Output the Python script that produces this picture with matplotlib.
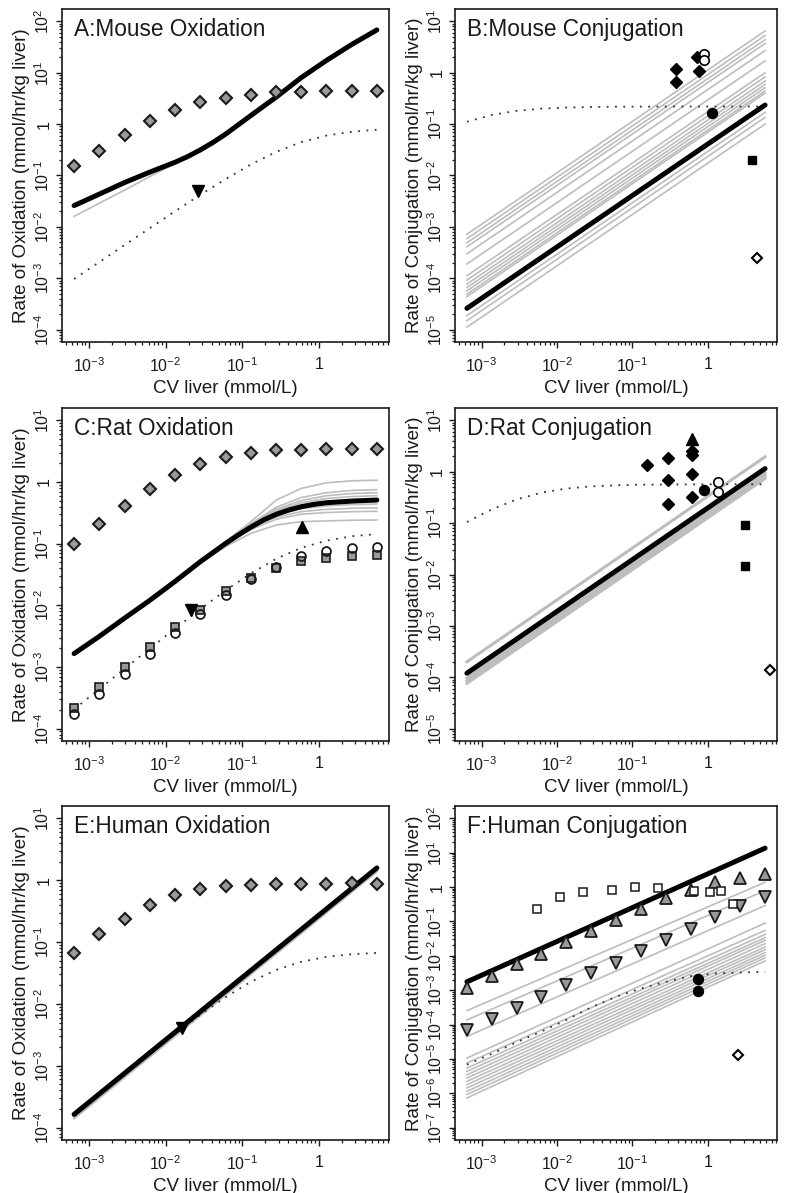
import matplotlib
matplotlib.use("Agg")
import matplotlib.pyplot as plt
from matplotlib.ticker import LogLocator, NullFormatter
import numpy as np

plt.rcParams["font.family"] = ["Liberation Sans", "DejaVu Sans"]
plt.rcParams["mathtext.fontset"] = "custom"
plt.rcParams["mathtext.rm"] = "Liberation Sans"
plt.rcParams["mathtext.it"] = "Liberation Sans:italic"
plt.rcParams["mathtext.bf"] = "Liberation Sans:bold"

# ---- data ----
CV = [6.4e-4, 1.37e-3, 2.92e-3, 6.2e-3, 1.33e-2, 2.84e-2, 6.1e-2,
      0.13, 0.28, 0.59, 1.26, 2.7, 5.75]
CV_ENDS = [CV[0], CV[-1]]

# A: mouse oxidation
a_sim = [0.154, 0.305, 0.62, 1.13, 1.87, 2.67, 3.28, 3.7, 4.16, 4.2, 4.35, 4.35, 4.35]
a_model_x = [6.4e-4, 1.37e-3, 2.92e-3, 6.2e-3, 1.33e-2, 1.94e-2, 2.84e-2, 4.16e-2,
             6.1e-2, 0.089, 0.13, 0.28, 0.59, 1.26, 2.7, 5.75]
a_model = [0.026, 0.0435, 0.073, 0.116, 0.181, 0.233, 0.314, 0.44,
           0.64, 0.97, 1.47, 3.38, 8.0, 17.3, 35.5, 68]
a_gray = [0.016, 0.029, 0.052, 0.095, 0.17, 0.30, 0.62, 1.44, 3.33, 7.9, 17.1, 35, 67.5]
a_dotted = [9.7e-4, 2.08e-3, 4.45e-3, 9.4e-3, 0.0201, 0.042, 0.0852,
            0.164, 0.289, 0.446, 0.598, 0.71, 0.778]
a_obs_x, a_obs_y = [0.0265], [0.049]

# B: mouse conjugation
b_model = [2.6e-5, 0.235]
b_gray_start = [7.2e-4, 5.9e-4, 4.9e-4, 4.1e-4, 3.0e-4, 1.9e-4, 1.12e-4, 9.2e-5,
                7.7e-5, 6.6e-5, 5.7e-5, 4.9e-5, 4.4e-5, 1.88e-5, 1.5e-5, 1.12e-5]
b_gray_end = [6.5, 5.3, 4.4, 3.7, 2.7, 1.7, 1.0, 0.83,
              0.69, 0.59, 0.51, 0.44, 0.40, 0.169, 0.135, 0.10]
b_dotted = [0.111, 0.151, 0.181, 0.20, 0.21, 0.215, 0.218, 0.219, 0.22, 0.22, 0.22, 0.22, 0.22]
b_dia_x, b_dia_y = [0.38, 0.38, 0.76, 0.73], [1.16, 0.66, 1.06, 2.0]
b_ocirc_x, b_ocirc_y = [0.9, 0.9], [2.33, 1.73]
b_circ_x, b_circ_y = [1.15], [0.166]
b_sq_x, b_sq_y = [3.8], [0.020]
b_odia_x, b_odia_y = [4.5], [2.5e-4]

# C: rat oxidation
c_sim = [0.098, 0.206, 0.41, 0.77, 1.29, 1.94, 2.55, 3.0, 3.27, 3.27, 3.4, 3.4, 3.4]
c_model_x = [6.4e-4, 1.37e-3, 2.92e-3, 6.2e-3, 1.33e-2, 2.84e-2, 6.1e-2, 0.089,
             0.13, 0.19, 0.28, 0.406, 0.59, 0.862, 1.26, 2.7, 5.75]
c_model = [1.65e-3, 3.15e-3, 6.2e-3, 0.012, 0.0244, 0.051, 0.101, 0.138,
           0.185, 0.242, 0.300, 0.351, 0.397, 0.434, 0.461, 0.49, 0.51]
c_gray = [
    [1.66e-3, 3.17e-3, 6.25e-3, 0.0121, 0.0247, 0.052, 0.108, 0.227, 0.51, 0.786, 0.97, 1.045, 1.07],
    [1.66e-3, 3.16e-3, 6.23e-3, 0.0121, 0.0246, 0.0515, 0.105, 0.21, 0.39, 0.56, 0.67, 0.73, 0.75],
    [1.65e-3, 3.16e-3, 6.22e-3, 0.0120, 0.0245, 0.0513, 0.104, 0.205, 0.36, 0.50, 0.60, 0.65, 0.67],
    [1.65e-3, 3.15e-3, 6.21e-3, 0.0120, 0.0245, 0.0511, 0.103, 0.20, 0.34, 0.46, 0.54, 0.58, 0.60],
    [1.65e-3, 3.15e-3, 6.2e-3, 0.0120, 0.0243, 0.0508, 0.100, 0.185, 0.29, 0.37, 0.41, 0.43, 0.44],
    [1.64e-3, 3.14e-3, 6.19e-3, 0.0119, 0.0242, 0.0505, 0.099, 0.18, 0.27, 0.33, 0.36, 0.375, 0.38],
    [1.64e-3, 3.14e-3, 6.18e-3, 0.0119, 0.0241, 0.0500, 0.097, 0.17, 0.25, 0.30, 0.32, 0.33, 0.335],
    [1.63e-3, 3.12e-3, 6.1e-3, 0.0117, 0.0236, 0.0475, 0.0897, 0.147, 0.201, 0.227, 0.234, 0.24, 0.242],
]
c_dotted = [2.06e-4, 4.41e-4, 9.37e-4, 1.98e-3, 4.18e-3, 8.66e-3, 0.0175,
            0.033, 0.0571, 0.0855, 0.112, 0.132, 0.143]
c_sq = [2.18e-4, 4.72e-4, 1.0e-3, 2.11e-3, 4.45e-3, 8.49e-3, 0.0168,
        0.0276, 0.041, 0.0526, 0.0596, 0.0641, 0.0657]
c_circ = [1.71e-4, 3.68e-4, 7.56e-4, 1.65e-3, 3.56e-3, 7.22e-3, 0.0145,
          0.0266, 0.0426, 0.0634, 0.0764, 0.0843, 0.0897]
c_tdown_x, c_tdown_y = [0.0212], [8.5e-3]
c_tup_x, c_tup_y = [0.6], [0.189]

# D: rat conjugation
d_model = [1.2e-4, 1.15]
d_gray_start = [2.0e-4, 9.6e-5, 8.5e-5, 7.6e-5]
d_gray_end = [1.95, 0.93, 0.83, 0.74]
d_dotted = [0.105, 0.185, 0.289, 0.391, 0.47, 0.518, 0.545, 0.558, 0.564, 0.567, 0.569, 0.57, 0.57]
d_dia_x = [0.155, 0.30, 0.30, 0.30, 0.62, 0.62, 0.62, 0.62]
d_dia_y = [1.33, 1.85, 0.70, 0.239, 0.92, 0.322, 2.08, 2.5]
d_tup_x, d_tup_y = [0.62], [4.4]
d_circ_x, d_circ_y = [0.89], [0.448]
d_ocirc_x, d_ocirc_y = [1.36, 1.36], [0.63, 0.404]
d_sq_x, d_sq_y = [3.07, 3.07], [0.093, 0.0147]
d_odia_x, d_odia_y = [6.7], [1.37e-4]

# E: human oxidation
e_sim = [0.0663, 0.133, 0.239, 0.403, 0.571, 0.714, 0.81, 0.851, 0.873, 0.883, 0.883, 0.906, 0.883]
e_model = [1.64e-4, 1.58]
e_gray_start = [1.4e-4, 1.5e-4]
e_gray_end = [1.38, 1.45]
e_dotted = [1.66e-4, 3.53e-4, 7.49e-4, 1.57e-3, 3.29e-3, 6.66e-3, 0.0129,
            0.0228, 0.0356, 0.048, 0.0576, 0.0636, 0.0669]
e_obs_x, e_obs_y = [0.0162], [4.03e-3]

# F: human conjugation
f_model = [1.75e-3, 13.6]
f_gray_start = [2.54e-4, 1.36e-4, 4.5e-5, 1.06e-5, 7.57e-6, 5.43e-6, 4.35e-6, 3.48e-6,
                2.79e-6, 2.23e-6, 1.79e-6, 1.43e-6, 1.14e-6, 9.2e-7, 7.3e-7]
f_gray_end = [1.38, 0.79, 0.29, 0.0897, 0.055, 0.042, 0.0337, 0.0282,
              0.0226, 0.0181, 0.0151, 0.0124, 0.0104, 8.7e-3, 7.1e-3]
f_dotted = [6.8e-6, 1.41e-5, 3.07e-5, 6.25e-5, 1.36e-4, 3.17e-4, 6.46e-4,
            1.12e-3, 1.75e-3, 2.56e-3, 3.06e-3, 3.27e-3, 3.42e-3]
f_tup = [1.12e-3, 2.62e-3, 5.7e-3, 0.0116, 0.0247, 0.0526, 0.112,
         0.233, 0.475, 0.847, 1.38, 1.84, 2.4]
f_tdown = [7.0e-5, 1.42e-4, 2.96e-4, 6.46e-4, 1.41e-3, 3.2e-3, 6.37e-3,
           0.0136, 0.0283, 0.0615, 0.134, 0.279, 0.531]
f_osq_x = [5.48e-3, 0.011, 0.0224, 0.054, 0.109, 0.216, 0.652, 1.08, 1.51, 2.13]
f_osq_y = [0.223, 0.508, 0.709, 0.828, 0.988, 0.946, 0.792, 0.709, 0.792, 0.326]
f_circ_x, f_circ_y = [0.743, 0.743], [2.09e-3, 9.2e-4]
f_odia_x, f_odia_y = [2.5], [1.32e-5]

# ---- figure ----
FIG_W, FIG_H = 785, 1193
INK = "#1a1a1a"
GRAY_LINE = "#bdbdbd"
GRAY_FILL = "#9a9a9a"
DOT_STYLE = dict(color="#333333", lw=1.3, ls=(0, (1, 3.6)), zorder=2)

fig = plt.figure(figsize=(FIG_W / 100, FIG_H / 100), dpi=100)
cols = [(62, 389), (455, 777)]
rows = [(9, 342), (408, 741), (806, 1140)]


def panel(col, row, ylo, yhi, title, ylabel):
    x0, x1 = cols[col]
    y0, y1 = rows[row]
    w, h = x1 - x0, y1 - y0
    ax = fig.add_axes([x0 / FIG_W, 1 - y1 / FIG_H, w / FIG_W, h / FIG_H])
    ax.set_xscale("log")
    ax.set_yscale("log")
    lx = np.log10(CV_ENDS)
    mx = 0.04 * (lx[1] - lx[0])
    ax.set_xlim(10 ** (lx[0] - mx), 10 ** (lx[1] + mx))
    my = 0.04 * (yhi - ylo)
    ax.set_ylim(10 ** (ylo - my), 10 ** (yhi + my))

    xt = [1e-3, 1e-2, 1e-1, 1]
    ax.set_xticks(xt, [r"$10^{-3}$", r"$10^{-2}$", r"$10^{-1}$", "1"])
    exps = list(range(ylo, yhi + 1))
    ylabels = ["1" if e == 0 else r"$10^{%d}$" % e for e in exps]
    ax.set_yticks([10.0 ** e for e in exps], ylabels, rotation=90, va="center")
    for axis in (ax.xaxis, ax.yaxis):
        axis.set_minor_locator(LogLocator(base=10, subs=np.arange(2, 10), numticks=100))
        axis.set_minor_formatter(NullFormatter())
    ax.tick_params(which="major", direction="out", length=4.5, width=1.0,
                   color=INK, labelcolor=INK, labelsize=11.5)
    ax.tick_params(axis="x", which="major", pad=6)
    ax.tick_params(axis="y", which="major", pad=3)
    ax.tick_params(which="minor", direction="out", length=2.5, width=0.9, color=INK)
    for sp in ax.spines.values():
        sp.set_linewidth(1.2)
        sp.set_color(INK)

    ax.text(12 / w, 1 - 27 / h, title, transform=ax.transAxes, fontsize=16.3,
            color=INK, ha="left", va="baseline")
    ax.text(0.5, -51 / h, "CV liver (mmol/L)", transform=ax.transAxes,
            fontsize=13.5, color=INK, ha="center", va="baseline")
    ax.text(-36 / w, 0.5, ylabel, transform=ax.transAxes, fontsize=13.5,
            color=INK, ha="center", va="baseline", rotation=90,
            rotation_mode="anchor")
    return ax


def sim_diamonds(ax, y):
    ax.plot(CV, y, ls="none", marker="D", ms=6.0, mfc=GRAY_FILL, mec=INK,
            mew=1.5, zorder=5)


OX = "Rate of Oxidation (mmol/hr/kg liver)"
CJ = "Rate of Conjugation (mmol/hr/kg liver)"

# A
ax = panel(0, 0, -4, 2, "A:Mouse Oxidation", OX)
ax.plot(CV, a_gray, color=GRAY_LINE, lw=1.2, zorder=1)
ax.plot(CV, a_dotted, **DOT_STYLE)
ax.plot(a_model_x, a_model, color="black", lw=3.6, zorder=3,
        solid_capstyle="round", solid_joinstyle="round")
sim_diamonds(ax, a_sim)
ax.plot(a_obs_x, a_obs_y, ls="none", marker="v", ms=8, color="black", zorder=5)

# B
ax = panel(1, 0, -5, 1, "B:Mouse Conjugation", CJ)
for s, e in zip(b_gray_start, b_gray_end):
    ax.plot(CV_ENDS, [s, e], color=GRAY_LINE, lw=1.2, zorder=1)
ax.plot(CV, b_dotted, **DOT_STYLE)
ax.plot(CV_ENDS, b_model, color="black", lw=3.6, zorder=3, solid_capstyle="round")
ax.plot(b_dia_x, b_dia_y, ls="none", marker="D", ms=6.4, color="black", zorder=5)
ax.plot(b_ocirc_x, b_ocirc_y, ls="none", marker="o", ms=6.8, mfc="white",
        mec="black", mew=1.2, zorder=5)
ax.plot(b_circ_x, b_circ_y, ls="none", marker="o", ms=7.2, color="black", zorder=5)
ax.plot(b_sq_x, b_sq_y, ls="none", marker="s", ms=6.2, color="black", zorder=5)
ax.plot(b_odia_x, b_odia_y, ls="none", marker="D", ms=5.2, mfc="white",
        mec="black", mew=1.5, zorder=5)

# C
ax = panel(0, 1, -4, 1, "C:Rat Oxidation", OX)
for g in c_gray:
    ax.plot(CV, g, color=GRAY_LINE, lw=1.2, zorder=1)
ax.plot(CV, c_dotted, **DOT_STYLE)
ax.plot(c_model_x, c_model, color="black", lw=3.6, zorder=3,
        solid_capstyle="round", solid_joinstyle="round")
sim_diamonds(ax, c_sim)
ax.plot(CV, c_sq, ls="none", marker="s", ms=6.0, mfc=GRAY_FILL, mec=INK,
        mew=1.2, zorder=5)
ax.plot(CV, c_circ, ls="none", marker="o", ms=6.4, mfc="none", mec=INK,
        mew=1.3, zorder=6)
ax.plot(c_tdown_x, c_tdown_y, ls="none", marker="v", ms=8, color="black", zorder=6)
ax.plot(c_tup_x, c_tup_y, ls="none", marker="^", ms=8, color="black", zorder=6)

# D
ax = panel(1, 1, -5, 1, "D:Rat Conjugation", CJ)
for s, e in zip(d_gray_start, d_gray_end):
    ax.plot(CV_ENDS, [s, e], color=GRAY_LINE, lw=2.2, zorder=1)
ax.plot(CV, d_dotted, **DOT_STYLE)
ax.plot(CV_ENDS, d_model, color="black", lw=3.6, zorder=3, solid_capstyle="round")
ax.plot(d_dia_x, d_dia_y, ls="none", marker="D", ms=6.4, color="black", zorder=5)
ax.plot(d_tup_x, d_tup_y, ls="none", marker="^", ms=8.5, color="black", zorder=5)
ax.plot(d_circ_x, d_circ_y, ls="none", marker="o", ms=7.2, color="black", zorder=5)
ax.plot(d_ocirc_x, d_ocirc_y, ls="none", marker="o", ms=6.8, mfc="white",
        mec="black", mew=1.2, zorder=5)
ax.plot(d_sq_x, d_sq_y, ls="none", marker="s", ms=6.2, color="black", zorder=5)
ax.plot(d_odia_x, d_odia_y, ls="none", marker="D", ms=5.2, mfc="white",
        mec="black", mew=1.5, zorder=5)

# E
ax = panel(0, 2, -4, 1, "E:Human Oxidation", OX)
for s, e in zip(e_gray_start, e_gray_end):
    ax.plot(CV_ENDS, [s, e], color=GRAY_LINE, lw=1.5, zorder=1)
ax.plot(CV, e_dotted, **DOT_STYLE)
ax.plot(CV_ENDS, e_model, color="black", lw=3.6, zorder=3, solid_capstyle="round")
sim_diamonds(ax, e_sim)
ax.plot(e_obs_x, e_obs_y, ls="none", marker="v", ms=8, color="black", zorder=5)

# F
ax = panel(1, 2, -7, 2, "F:Human Conjugation", CJ)
for s, e in zip(f_gray_start, f_gray_end):
    ax.plot(CV_ENDS, [s, e], color=GRAY_LINE, lw=1.2, zorder=1)
ax.plot(CV, f_dotted, **DOT_STYLE)
ax.plot(CV_ENDS, f_model, color="black", lw=3.6, zorder=3, solid_capstyle="round")
ax.plot(CV, f_tup, ls="none", marker="^", ms=8.5, mfc=GRAY_FILL, mec=INK,
        mew=1.3, zorder=5)
ax.plot(CV, f_tdown, ls="none", marker="v", ms=8.5, mfc=GRAY_FILL, mec=INK,
        mew=1.3, zorder=5)
ax.plot(f_osq_x, f_osq_y, ls="none", marker="s", ms=6.2, mfc="white",
        mec=INK, mew=1.1, zorder=5)
ax.plot(f_circ_x, f_circ_y, ls="none", marker="o", ms=7.2, color="black", zorder=5)
ax.plot(f_odia_x, f_odia_y, ls="none", marker="D", ms=5.2, mfc="white",
        mec="black", mew=1.5, zorder=5)

fig.savefig("out.png", dpi=100)
